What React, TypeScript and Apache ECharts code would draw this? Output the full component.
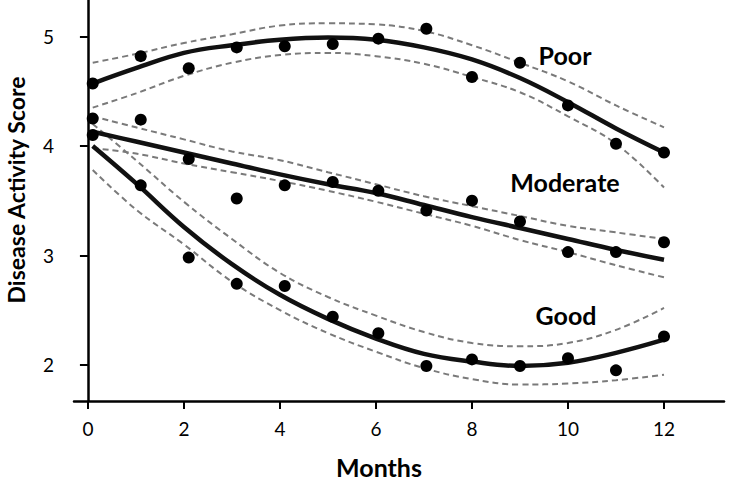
import React, { useEffect, useRef } from "react";
import * as echarts from "echarts";

// Observed monthly mean scores (dots)
const obsMonths = [0.1, 1.1, 2.1, 3.1, 4.1, 5.1, 6.05, 7.05, 8, 9, 10, 11, 12];
const poorObs = [4.57, 4.82, 4.71, 4.9, 4.91, 4.93, 4.98, 5.07, 4.63, 4.76, 4.37, 4.02, 3.94];
const moderateObs = [4.25, 4.24, 3.88, 3.52, 3.64, 3.67, 3.59, 3.41, 3.5, 3.31, 3.03, 3.03, 3.12];
const goodObs = [4.1, 3.64, 2.98, 2.74, 2.72, 2.44, 2.29, 1.99, 2.05, 1.99, 2.06, 1.95, 2.26];

// Fitted curves and confidence bands
const fitMonths = [0.1, 1, 2, 3, 4, 5, 6, 7, 8, 9, 10, 11, 12];
const poorFit = [4.57, 4.71, 4.85, 4.92, 4.97, 4.99, 4.97, 4.9, 4.79, 4.62, 4.4, 4.16, 3.94];
const poorUpper = [4.76, 4.84, 4.94, 5.02, 5.1, 5.12, 5.11, 5.05, 4.92, 4.76, 4.59, 4.37, 4.17];
const poorLower = [4.35, 4.48, 4.64, 4.76, 4.83, 4.85, 4.82, 4.75, 4.63, 4.49, 4.27, 4.02, 3.62];
const moderateFit = [4.13, 4.04, 3.94, 3.84, 3.74, 3.65, 3.57, 3.46, 3.35, 3.25, 3.15, 3.05, 2.96];
const moderateUpper = [4.27, 4.17, 4.06, 3.95, 3.87, 3.76, 3.65, 3.54, 3.45, 3.36, 3.27, 3.21, 3.15];
const moderateLower = [3.98, 3.93, 3.84, 3.76, 3.68, 3.59, 3.49, 3.38, 3.27, 3.14, 3.03, 2.91, 2.8];
const goodFit = [4.0, 3.66, 3.26, 2.92, 2.64, 2.42, 2.24, 2.1, 2.03, 1.99, 2.02, 2.11, 2.23];
const goodUpper = [4.2, 3.87, 3.49, 3.15, 2.84, 2.62, 2.45, 2.3, 2.2, 2.17, 2.2, 2.32, 2.52];
const goodLower = [3.78, 3.42, 3.1, 2.76, 2.5, 2.29, 2.12, 1.97, 1.87, 1.82, 1.83, 1.86, 1.91];

// Axis tick labels
const xTicks = [0, 2, 4, 6, 8, 10, 12];
const yTicks = [2, 3, 4, 5];

const groupLabels = ["Poor", "Moderate", "Good"];

const FONT = "Lato, 'Open Sans', sans-serif";

const pairs = (xs: number[], ys: number[]) => xs.map((x, i) => [x, ys[i]]);

export default function App() {
  const ref = useRef<HTMLDivElement>(null);

  useEffect(() => {
    if (!ref.current) return;
    const chart = echarts.init(ref.current, null, { renderer: "svg" });

    const solid = (name: string, ys: number[]) => ({
      name,
      type: "line",
      data: pairs(fitMonths, ys),
      smooth: 0.4,
      showSymbol: false,
      lineStyle: { color: "#111", width: 4.5 },
      z: 3,
    });
    const dashed = (name: string, ys: number[]) => ({
      name,
      type: "line",
      data: pairs(fitMonths, ys),
      smooth: 0.4,
      showSymbol: false,
      lineStyle: { color: "#7a7a7a", width: 2, type: [6, 4] },
      z: 2,
    });
    const dots = (name: string, ys: number[]) => ({
      name,
      type: "scatter",
      data: pairs(obsMonths, ys),
      symbol: "circle",
      symbolSize: 12,
      itemStyle: { color: "#000", opacity: 1 },
      z: 4,
    });

    const labelText = (text: string, x: number, y: number) => ({
      type: "text",
      x,
      y,
      style: {
        text,
        fontFamily: FONT,
        fontWeight: "bold",
        fontSize: 25,
        fill: "#000",
        align: "center",
        verticalAlign: "middle",
      },
    });

    const option = {
      animation: false,
      backgroundColor: "#fff",
      grid: { left: 74, right: 20, top: 0, bottom: 86, containLabel: false },
      xAxis: {
        type: "value",
        min: -0.29,
        max: 13.25,
        axisLine: { show: true, lineStyle: { color: "#000", width: 2.5 } },
        axisTick: {
          show: true,
          length: 8,
          customValues: xTicks,
          lineStyle: { color: "#000", width: 2 },
        },
        axisLabel: {
          customValues: xTicks,
          margin: 18,
          fontSize: 19,
          color: "#000",
          fontFamily: FONT,
        },
        splitLine: { show: false },
      },
      yAxis: {
        type: "value",
        min: 1.67,
        max: 5.333,
        axisLine: { show: true, lineStyle: { color: "#000", width: 2.5 } },
        axisTick: {
          show: true,
          length: 8,
          customValues: yTicks,
          lineStyle: { color: "#000", width: 2 },
        },
        axisLabel: {
          customValues: yTicks,
          margin: 20,
          fontSize: 19,
          color: "#000",
          fontFamily: FONT,
        },
        splitLine: { show: false },
      },
      series: [
        dashed("Poor upper", poorUpper),
        dashed("Poor lower", poorLower),
        dashed("Moderate upper", moderateUpper),
        dashed("Moderate lower", moderateLower),
        dashed("Good upper", goodUpper),
        dashed("Good lower", goodLower),
        solid("Poor fit", poorFit),
        solid("Moderate fit", moderateFit),
        solid("Good fit", goodFit),
        dots("Poor", poorObs),
        dots("Moderate", moderateObs),
        dots("Good", goodObs),
      ],
      graphic: [
        {
          type: "text",
          x: 16,
          y: 190,
          rotation: Math.PI / 2,
          style: {
            text: "Disease Activity Score",
            fontFamily: FONT,
            fontWeight: "bold",
            fontSize: 23,
            fill: "#000",
            align: "center",
            verticalAlign: "middle",
          },
        },
        labelText("Months", 379, 467),
        labelText(groupLabels[0], 565, 55),
        labelText(groupLabels[1], 565, 182),
        labelText(groupLabels[2], 566, 315),
      ],
    };

    chart.setOption(option as any);
    return () => chart.dispose();
  }, []);

  return <div ref={ref} style={{ width: 744, height: 487, position: "absolute", left: 0, top: 0 }} />;
}
